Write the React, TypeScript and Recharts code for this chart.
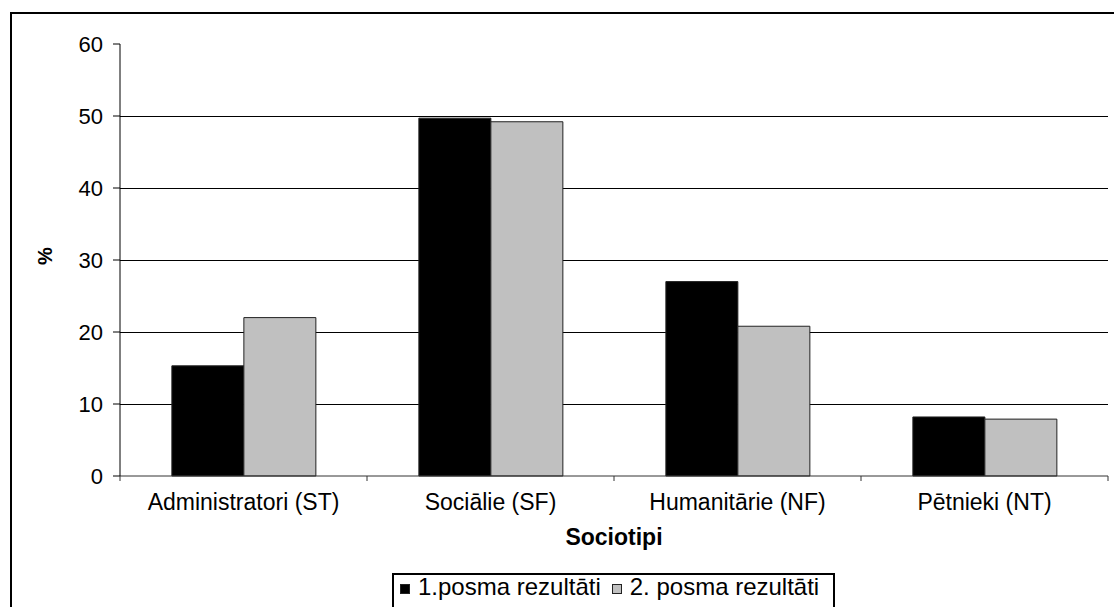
import { Bar, BarChart, CartesianGrid, Legend, XAxis, YAxis } from 'recharts';

const categories = ['Administratori (ST)', 'Sociālie (SF)', 'Humanitārie (NF)', 'Pētnieki (NT)'];
const firstRound = [15.3, 49.7, 27.0, 8.2];
const secondRound = [22.0, 49.2, 20.8, 7.9];
const yTicks = [0, 10, 20, 30, 40, 50, 60];
const gridValues = [10, 20, 30, 40, 50];

const seriesNames = ['1.posma rezultāti', '2. posma rezultāti'];

const data = categories.map((name, i) => ({
  name,
  first: firstRound[i],
  second: secondRound[i],
}));

const FONT = '"Liberation Sans", Arial, sans-serif';

// label in the middle of the band, small tick marks on the band edges
function CategoryTick(props: any) {
  const { x, y, payload, index, visibleTicksCount } = props;
  const half = payload?.offset ?? 0;
  const isLast = index === visibleTicksCount - 1;
  return (
    <g>
      <line x1={x - half} x2={x - half} y1={y} y2={y + 5} stroke="#333" />
      {isLast && <line x1={x + half} x2={x + half} y1={y} y2={y + 5} stroke="#333" />}
      <text x={x} y={y + 34} textAnchor="middle" fontSize={23} fontFamily={FONT} fill="#000">
        {payload.value}
      </text>
    </g>
  );
}

function LegendBox(props: any) {
  const items = props.payload ?? [];
  return (
    <div
      style={{
        border: '2px solid #000',
        height: 60,
        boxSizing: 'border-box',
        display: 'flex',
        alignItems: 'flex-start',
        fontFamily: FONT,
        fontSize: 24,
        lineHeight: '24px',
        color: '#000',
        paddingLeft: 6,
        background: '#fff',
      }}
    >
      {items.map((it: any, i: number) => (
        <div key={i} style={{ display: 'flex', alignItems: 'center', marginRight: 11 }}>
          <span
            style={{
              display: 'inline-block',
              width: 10,
              height: 10,
              boxSizing: 'border-box',
              background: it.color,
              border: '1px solid #222',
              marginRight: 8,
              marginTop: 4,
            }}
          />
          <span>{it.value}</span>
        </div>
      ))}
    </div>
  );
}

export default function App() {
  return (
    <div
      style={{
        position: 'fixed',
        left: 0,
        top: 0,
        width: 1114,
        height: 607,
        overflow: 'hidden',
        background: '#fff',
      }}
    >
      {/* outer frame, right and bottom edges fall outside the picture */}
      <div
        style={{
          position: 'absolute',
          left: 10,
          top: 12,
          width: 1200,
          height: 700,
          border: '2px solid #000',
        }}
      />
      <div style={{ position: 'absolute', left: 0, top: 0 }}>
        <BarChart
          width={1114}
          height={607}
          data={data}
          margin={{ top: 44, right: 6, left: 0, bottom: 0 }}
          barCategoryGap="21%"
          barGap={0}
        >
          <CartesianGrid
            vertical={false}
            horizontalValues={gridValues}
            stroke="#000"
            strokeWidth={1}
            shapeRendering="crispEdges"
          />
          <XAxis
            dataKey="name"
            height={131}
            axisLine={{ stroke: '#333' }}
            tickLine={false}
            tickSize={0}
            tickMargin={0}
            tick={<CategoryTick />}
            interval={0}
            label={(p: any) => {
              const vb = p.viewBox;
              return (
                <text
                  x={vb.x + vb.width / 2}
                  y={vb.y + 69}
                  textAnchor="middle"
                  fontSize={23}
                  fontWeight="bold"
                  fontFamily={FONT}
                  fill="#000"
                >
                  Sociotipi
                </text>
              );
            }}
          />
          <YAxis
            width={120}
            domain={[0, 60]}
            ticks={yTicks}
            interval={0}
            axisLine={{ stroke: '#000' }}
            tickLine={{ stroke: '#000' }}
            tickSize={7}
            tickMargin={10}
            tick={{ fontSize: 22, fontFamily: FONT, fill: '#000' }}
            label={(p: any) => {
              const vb = p.viewBox;
              const cy = vb.y + vb.height / 2 - 4;
              return (
                <text
                  x={45}
                  y={cy}
                  transform={`rotate(-90 45 ${cy})`}
                  textAnchor="middle"
                  dominantBaseline="central"
                  fontSize={20}
                  fontWeight="bold"
                  fontFamily={FONT}
                  fill="#000"
                >
                  %
                </text>
              );
            }}
          />
          <Legend
            layout="horizontal"
            verticalAlign="middle"
            align="center"
            content={<LegendBox />}
            wrapperStyle={{ left: 392, top: 573, width: 443, height: 60 }}
          />
          <Bar
            dataKey="first"
            name={seriesNames[0]}
            fill="#000000"
            stroke="#222"
            strokeWidth={1}
            isAnimationActive={false}
          />
          <Bar
            dataKey="second"
            name={seriesNames[1]}
            fill="#c0c0c0"
            stroke="#222"
            strokeWidth={1}
            isAnimationActive={false}
          />
        </BarChart>
      </div>
    </div>
  );
}
